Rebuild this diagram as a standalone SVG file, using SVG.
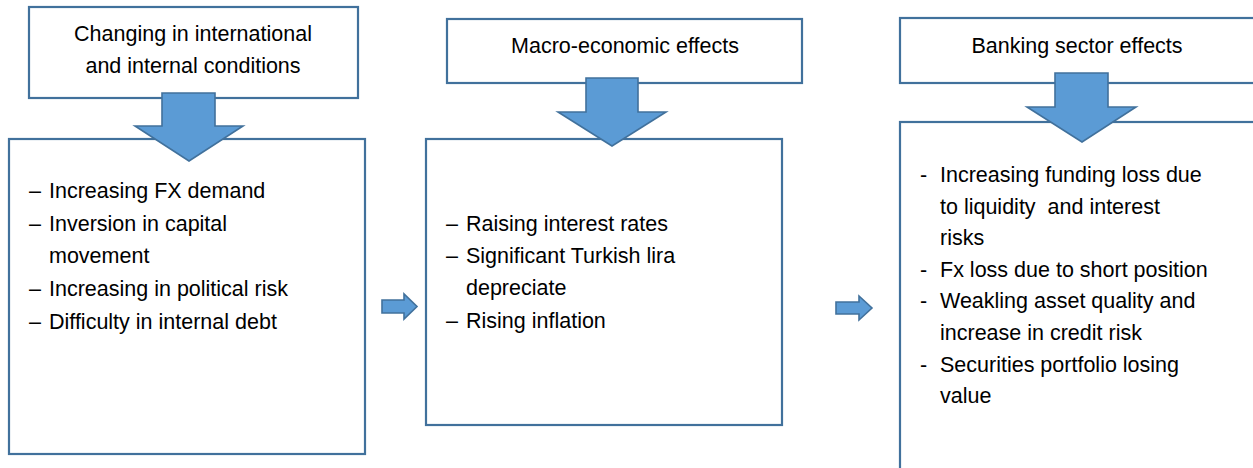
<svg xmlns="http://www.w3.org/2000/svg" width="1253" height="468" viewBox="0 0 1253 468">
<style>
.box{fill:#fff;stroke:#41719C;stroke-width:2.2}
.arr{fill:#5B9BD5;stroke:#41719C;stroke-width:1.6;stroke-linejoin:miter}
text{font-family:"Liberation Sans",Arial,sans-serif;font-size:21.5px;fill:#000}
.h{text-anchor:middle}
</style>
<rect width="1253" height="468" fill="#fff"/>
<g id="n1-header"><rect class="box" x="29" y="7" width="329" height="91"/>
<text class="h" x="193" y="41">Changing in international</text>
<text class="h" x="193" y="73">and internal conditions</text></g>
<g id="n1-body"><rect class="box" x="9" y="139" width="356" height="315"/>
<text x="29" y="198">–</text><text x="49" y="198">Increasing FX demand</text>
<text x="29" y="231">–</text><text x="49" y="231">Inversion in capital</text>
<text x="49" y="263">movement</text>
<text x="29" y="296">–</text><text x="49" y="296">Increasing in political risk</text>
<text x="29" y="329">–</text><text x="49" y="329">Difficulty in internal debt</text></g>
<g id="n2-header"><rect class="box" x="447" y="19" width="355" height="64"/>
<text class="h" x="625" y="53">Macro-economic effects</text></g>
<g id="n2-body"><rect class="box" x="426" y="139" width="356" height="286"/>
<text x="446" y="231">–</text><text x="466" y="231">Raising interest rates</text>
<text x="446" y="263">–</text><text x="466" y="263">Significant Turkish lira</text>
<text x="466" y="295">depreciate</text>
<text x="446" y="328">–</text><text x="466" y="328">Rising inflation</text></g>
<g id="n3-header"><rect class="box" x="900" y="18" width="360" height="65"/>
<text class="h" x="1077" y="53">Banking sector effects</text></g>
<g id="n3-body"><rect class="box" x="900" y="122" width="360" height="360"/>
<text x="920" y="182">-</text><text x="940" y="182">Increasing funding loss due</text>
<text x="940" y="214" xml:space="preserve">to liquidity  and interest</text>
<text x="940" y="245">risks</text>
<text x="920" y="277">-</text><text x="940" y="277">Fx loss due to short position</text>
<text x="920" y="308">-</text><text x="940" y="308">Weakling asset quality and</text>
<text x="940" y="340">increase in credit risk</text>
<text x="920" y="372">-</text><text x="940" y="372">Securities portfolio losing</text>
<text x="940" y="403">value</text></g>
<g id="connectors">
<polygon class="arr" points="162,93 215,93 215,126 243,126 189,161 135,126 162,126"/>
<polygon class="arr" points="586,78 638,78 638,112 666,112 612,146 558,112 586,112"/>
<polygon class="arr" points="1055,73 1108,73 1108,107 1136,107 1082,142 1027,107 1055,107"/>
<polygon class="arr" points="382,300 404,300 404,294 417,306.5 404,319 404,313 382,313"/>
<polygon class="arr" points="836,302 859,302 859,296 872,308 859,320 859,314 836,314"/>
</g>
</svg>
